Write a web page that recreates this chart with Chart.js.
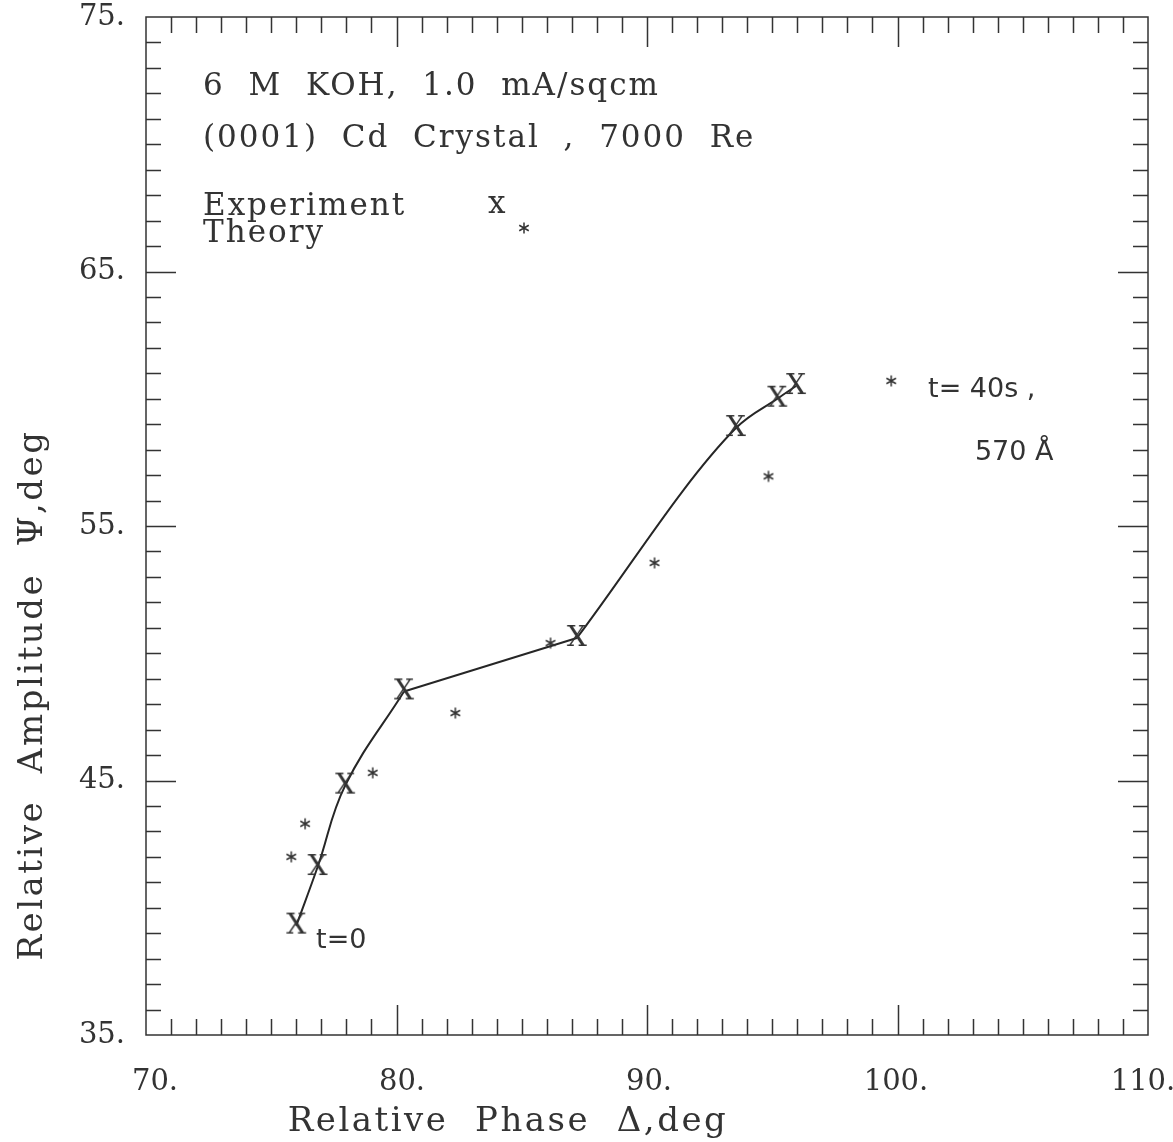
<!DOCTYPE html>
<html>
<head>
<meta charset="utf-8">
<script src="https://cdn.jsdelivr.net/npm/chart.js@4.4.1/dist/chart.umd.min.js"></script>
<style>
  html, body { margin: 0; padding: 0; background: #ffffff; }
  #c { display: block; }
</style>
</head>
<body>
<canvas id="c" width="1173" height="1142"></canvas>
<script>
// Ellipsometry trajectory: relative phase (Delta) vs relative amplitude (Psi)
const experimentPhase = [76.0, 76.85, 77.95, 80.3, 87.2, 93.55, 95.2, 95.95];
const experimentAmplitude = [39.3, 41.6, 44.8, 48.5, 50.6, 58.85, 60.0, 60.5];

const theoryPhase = [75.8, 76.35, 79.05, 82.35, 86.15, 90.3, 94.85, 99.75];
const theoryAmplitude = [42.0, 43.3, 45.3, 47.65, 50.4, 53.55, 56.95, 60.7];

const phaseTicks = [70, 80, 90, 100, 110];
const amplitudeTicks = [35, 45, 55, 65, 75];

const headerLines = ['6  M  KOH,  1.0  mA/sqcm', '(0001)  Cd  Crystal  ,  7000  Re'];
const legendLabels = ['Experiment', 'Theory'];
const xTitle = 'Relative  Phase  \u0394,deg';
const yTitle = 'Relative  Amplitude  \u03A8,deg';

// Notes placed in data coordinates (phase, amplitude)
const notes = [
  { text: 't=0', x: 76.79, y: 38.42 },
  { text: 't= 40s ,', x: 101.22, y: 60.07 },
  { text: '570 \u00C5', x: 103.09, y: 57.59 }
];

const INK = '#333333';
const SERIF = '"DejaVu Serif", "Liberation Serif", serif';
const SANS = '"DejaVu Sans", "Liberation Sans", sans-serif';

function pairs(xs, ys, from, to) {
  const out = [];
  for (let i = from; i <= to; i++) out.push({ x: xs[i], y: ys[i] });
  return out;
}

// Serif capital X used as the experiment marker
function makeXMarker() {
  const c = document.createElement('canvas');
  c.width = 30; c.height = 30;
  const g = c.getContext('2d');
  g.font = '28px ' + SERIF;
  g.fillStyle = INK;
  g.textAlign = 'center';
  g.textBaseline = 'middle';
  g.fillText('X', 15, 16);
  return c;
}

// Six-armed asterisk used as the theory marker
function drawAsterisk(g, cx, cy, r) {
  g.save();
  g.strokeStyle = INK;
  g.lineWidth = 1.5;
  g.beginPath();
  for (let k = 0; k < 3; k++) {
    const a = Math.PI / 2 + k * Math.PI / 3;
    g.moveTo(cx - r * Math.cos(a), cy - r * Math.sin(a));
    g.lineTo(cx + r * Math.cos(a), cy + r * Math.sin(a));
  }
  g.stroke();
  g.restore();
}
function makeStarMarker() {
  const c = document.createElement('canvas');
  c.width = 16; c.height = 16;
  drawAsterisk(c.getContext('2d'), 8, 8, 5.5);
  return c;
}

const xMarker = makeXMarker();
const starMarker = makeStarMarker();

// Frame, inward ticks on all four sides, and the text annotations
const framePlugin = {
  id: 'frame',
  afterDraw(chart) {
    const { ctx, chartArea: a, scales } = chart;
    const xs = scales.x, ys = scales.y;
    ctx.save();
    ctx.strokeStyle = INK;
    ctx.lineWidth = 1.5;
    ctx.strokeRect(a.left, a.top, a.right - a.left, a.bottom - a.top);

    ctx.beginPath();
    for (let v = xs.min + 1; v < xs.max; v++) {
      const px = Math.round(xs.getPixelForValue(v)) + 0.5;
      const len = v % 10 === 0 ? 30 : 16;
      ctx.moveTo(px, a.bottom); ctx.lineTo(px, a.bottom - len);
      ctx.moveTo(px, a.top); ctx.lineTo(px, a.top + len);
    }
    for (let v = ys.min + 1; v < ys.max; v++) {
      const py = Math.round(ys.getPixelForValue(v)) + 0.5;
      const len = v % 10 === 5 ? 30 : 15;
      ctx.moveTo(a.left, py); ctx.lineTo(a.left + len, py);
      ctx.moveTo(a.right, py); ctx.lineTo(a.right - len, py);
    }
    ctx.stroke();

    ctx.fillStyle = INK;
    ctx.textBaseline = 'alphabetic';
    ctx.textAlign = 'left';

    // header block
    ctx.font = '31px ' + SERIF;
    ctx.letterSpacing = '2px';
    ctx.fillText(headerLines[0], a.left + 57, a.top + 78);
    ctx.fillText(headerLines[1], a.left + 57, a.top + 130);
    ctx.fillText(legendLabels[0], a.left + 57, a.top + 198);
    ctx.fillText(legendLabels[1], a.left + 57, a.top + 225);
    ctx.fillText('x', a.left + 342, a.top + 196);
    drawAsterisk(ctx, a.left + 378, a.top + 211, 5.5);

    // time / thickness notes
    ctx.font = '27px ' + SANS;
    ctx.letterSpacing = '0px';
    notes.forEach(n => ctx.fillText(n.text, xs.getPixelForValue(n.x), ys.getPixelForValue(n.y)));

    // axis titles
    ctx.font = '34px ' + SERIF;
    ctx.letterSpacing = '2.5px';
    ctx.textAlign = 'center';
    ctx.fillText(xTitle, 508, 1131);
    ctx.save();
    ctx.translate(42, 695);
    ctx.rotate(-Math.PI / 2);
    ctx.fillText(yTitle, 0, 0);
    ctx.restore();

    ctx.restore();
  }
};

const lineStyle = { showLine: true, borderColor: '#262626', borderWidth: 2, pointRadius: 0, clip: false, order: 3 };

new Chart(document.getElementById('c'), {
  type: 'scatter',
  data: {
    datasets: [
      // curve through the experiment points, in three pieces
      Object.assign({ data: pairs(experimentPhase, experimentAmplitude, 0, 3), tension: 0.4 }, lineStyle),
      Object.assign({ data: pairs(experimentPhase, experimentAmplitude, 3, 4), tension: 0 }, lineStyle),
      Object.assign({ data: pairs(experimentPhase, experimentAmplitude, 4, 7), cubicInterpolationMode: 'monotone' }, lineStyle),
      {
        label: 'Experiment',
        data: pairs(experimentPhase, experimentAmplitude, 0, experimentPhase.length - 1),
        showLine: false,
        pointStyle: xMarker,
        pointRadius: 11,
        clip: false,
        order: 1
      },
      {
        label: 'Theory',
        data: pairs(theoryPhase, theoryAmplitude, 0, theoryPhase.length - 1),
        showLine: false,
        pointStyle: starMarker,
        pointRadius: 7,
        clip: false,
        order: 2
      }
    ]
  },
  options: {
    responsive: false,
    animation: false,
    devicePixelRatio: 1,
    layout: { padding: { top: 17, right: 25, left: 0, bottom: 0 } },
    plugins: { legend: { display: false }, tooltip: { enabled: false } },
    scales: {
      x: {
        type: 'linear',
        position: 'bottom',
        weight: 0,
        min: 70, max: 110,
        afterFit: s => { s.height = 0; s.paddingLeft = 0; s.paddingRight = 0; },
        grid: { display: false, drawTicks: false },
        border: { display: false },
        ticks: { display: false }
      },
      // label row under the phase axis, set slightly inside the frame ends
      xLabels: {
        type: 'linear',
        axis: 'x',
        position: 'bottom',
        weight: 1,
        min: 69.636, max: 110.203,
        afterBuildTicks: s => { s.ticks = phaseTicks.map(v => ({ value: v })); },
        afterFit: s => { s.height = 107; s.paddingLeft = 0; s.paddingRight = 0; },
        grid: { display: false, drawTicks: false },
        border: { display: false },
        ticks: {
          autoSkip: false,
          maxRotation: 0,
          padding: 30,
          color: INK,
          font: { family: SERIF, size: 29 },
          callback: v => v + '.'
        }
      },
      y: {
        type: 'linear',
        min: 35, max: 75,
        afterBuildTicks: s => { s.ticks = amplitudeTicks.map(v => ({ value: v })); },
        afterFit: s => { s.width = 146; s.paddingTop = 0; s.paddingBottom = 0; },
        grid: { display: false, drawTicks: false },
        border: { display: false },
        ticks: {
          autoSkip: false,
          padding: 21,
          color: INK,
          font: { family: SERIF, size: 29 },
          callback: v => v + '.'
        }
      }
    }
  },
  plugins: [framePlugin]
});
</script>
</body>
</html>
